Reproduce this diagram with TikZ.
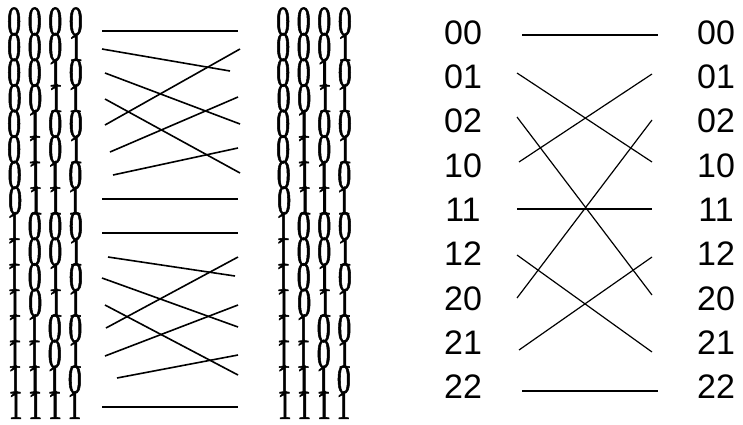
\documentclass[tikz,border=0pt]{standalone}
\usepackage{fontspec}
\setmainfont{Liberation Sans}
\newfontfamily\binfont[FakeStretch=0.66,LetterSpace=16,FakeBold=1.2]{Liberation Serif}
\begin{document}
\begin{tikzpicture}[x=1pt,y=-1pt,
  bin/.style={font=\binfont\fontsize{42}{42}\selectfont, inner sep=0pt, anchor=center},
  ter/.style={font=\fontsize{34}{34}\selectfont, inner sep=0pt, anchor=center},
  wl/.style={line width=1.6pt, black},
  wr/.style={line width=1.2pt, black}]
\useasboundingbox (0,0) rectangle (743,424);
% binary labels
\foreach \t [count=\i from 0] in {0000,0001,0010,0011,0100,0101,0110,0111,1000,1001,1010,1011,1100,1101,1110,1111}{
  \node[bin] (bl\i) at (45, 21.5+25.57*\i) {\t};
  \node[bin] (br\i) at (314, 21.5+25.57*\i) {\t};
}
% ternary labels
\foreach \t [count=\i from 0] in {00,01,02,10,11,12,20,21,22}{
  \node[ter] (tl\i) at (463, 32.5+44.3*\i) {\t};
  \node[ter] (tr\i) at (716, 32.5+44.3*\i) {\t};
}
% binary network end points
\coordinate (a0) at (102,31);  \coordinate (z0) at (238,31);
\coordinate (a1) at (102,49);  \coordinate (z1) at (230,71);
\coordinate (a2) at (105,73);  \coordinate (z2) at (240,124);
\coordinate (a3) at (105,99);  \coordinate (z3) at (240,173);
\coordinate (a4) at (105,125); \coordinate (z4) at (240,49);
\coordinate (a5) at (110,152); \coordinate (z5) at (238,97);
\coordinate (a6) at (113,175); \coordinate (z6) at (238,148);
\coordinate (a7) at (102,199); \coordinate (z7) at (238,199);
\coordinate (a8) at (102,233); \coordinate (z8) at (238,233);
\coordinate (a9) at (108,257); \coordinate (z9) at (235,276);
\coordinate (a10) at (102,278); \coordinate (z10) at (238,327);
\coordinate (a11) at (105,305); \coordinate (z11) at (238,375);
\coordinate (a12) at (106,328); \coordinate (z12) at (238,257);
\coordinate (a13) at (105,356); \coordinate (z13) at (238,305);
\coordinate (a14) at (117,378); \coordinate (z14) at (238,355);
\coordinate (a15) at (102,407); \coordinate (z15) at (238,407);
\foreach \k in {0,...,15}{ \draw[wl] (a\k) -- (z\k); }
% ternary network end points
\coordinate (p0) at (522,35);  \coordinate (q0) at (658,35);
\coordinate (p1) at (517,73);  \coordinate (q1) at (652,162);
\coordinate (p2) at (517,117); \coordinate (q2) at (652,295);
\coordinate (p3) at (519,162); \coordinate (q3) at (652,74);
\coordinate (p4) at (517,209); \coordinate (q4) at (652,209);
\coordinate (p5) at (517,255); \coordinate (q5) at (652,352);
\coordinate (p6) at (517,298); \coordinate (q6) at (652,120);
\coordinate (p7) at (519,350); \coordinate (q7) at (652,257);
\coordinate (p8) at (522,391); \coordinate (q8) at (658,391);
\foreach \k in {0,...,8}{ \draw[wr] (p\k) -- (q\k); }
\end{tikzpicture}
\end{document}
